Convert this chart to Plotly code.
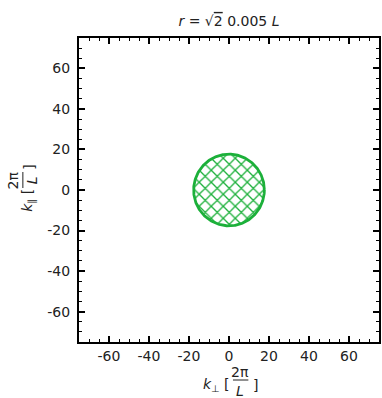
import numpy as np
import plotly.graph_objects as go

# ---- data ----
circle_center = (0.0, 0.0)
circle_radius = np.sqrt(2) * 0.005 * 2500   # ~17.68 in units of 2pi/L
axis_range = [-75, 75]
major_ticks = [-60, -40, -20, 0, 20, 40, 60]
major_labels = ["-60", "-40", "-20", "0", "20", "40", "60"]
minor_ticks = [v for v in range(-75, 76, 5) if v % 20 != 0]

GREEN = "#1cb03a"
FONT = "DejaVu Sans"

theta = np.linspace(0, 2 * np.pi, 361)
cx = circle_center[0] + circle_radius * np.cos(theta)
cy = circle_center[1] + circle_radius * np.sin(theta)

fig = go.Figure()
fig.add_trace(go.Scatter(
    x=cx, y=cy, mode="lines", fill="toself",
    line=dict(color=GREEN, width=2.8),
    fillcolor="white",
    fillpattern=dict(shape="x", fgcolor=GREEN, fgopacity=1, bgcolor="white",
                     size=8.5, solidity=0.28),
    hoverinfo="skip", showlegend=False,
))

W, H = 382, 398
L, R, T, B = 79, 1, 38, 56
def px(x):
    return (x - L) / (W - L - R)
def py(y):
    return (H - B - y) / (H - T - B)

axis_common = dict(
    range=axis_range, showgrid=False, zeroline=False,
    showline=True, linecolor="black", linewidth=2, mirror="allticks",
    ticks="inside", ticklen=6, tickwidth=1.5, tickcolor="black",
    tickmode="array", tickvals=major_ticks, ticktext=major_labels,
    tickfont=dict(family=FONT, size=14, color="#222"),
    minor=dict(tickvals=minor_ticks, ticks="inside", ticklen=3, tickwidth=1.3, tickcolor="black"),
)

fig.update_layout(
    width=W, height=H,
    margin=dict(l=L, r=R, t=T, b=B),
    paper_bgcolor="white", plot_bgcolor="white",
    font=dict(family=FONT, size=14, color="#222"),
    xaxis=dict(**axis_common),
    yaxis=dict(**axis_common, ticklabelstandoff=4),
    title=dict(
        text="<i>r</i> = √<span style='text-decoration:overline'>2</span> 0.005 <i>L</i>",
        x=0.5, xref="paper", y=1 - 21 / H, yref="container",
        xanchor="center", yanchor="middle",
        font=dict(family=FONT, size=14, color="#222"),
    ),
    showlegend=False,
)

ann = []
# x-axis label pieces
ann.append(dict(text="<i>k</i><sub>⊥</sub> [", x=px(233), y=py(385), xanchor="right", yanchor="middle"))
ann.append(dict(text="2π", x=px(241.5), y=py(372), xanchor="center", yanchor="middle"))
ann.append(dict(text="<i>L</i>", x=px(241.5), y=py(391), xanchor="center", yanchor="middle"))
ann.append(dict(text="]", x=px(252), y=py(385), xanchor="left", yanchor="middle"))
# y-axis label pieces (rotated)
ann.append(dict(text="<i>k</i><sub>∥</sub> [", x=px(28), y=py(187), xanchor="center", yanchor="top", textangle=-90))
ann.append(dict(text="2π", x=px(13), y=py(180), xanchor="center", yanchor="middle", textangle=-90))
ann.append(dict(text="<i>L</i>", x=px(32), y=py(180), xanchor="center", yanchor="middle", textangle=-90))
ann.append(dict(text="]", x=px(28), y=py(172), xanchor="center", yanchor="bottom", textangle=-90))
for a in ann:
    a.update(xref="paper", yref="paper", showarrow=False,
             font=dict(family=FONT, size=14, color="#222"))
fig.update_layout(annotations=ann)

fig.add_shape(type="line", xref="paper", yref="paper",
              x0=px(234), x1=px(249.5), y0=py(380), y1=py(380),
              line=dict(color="#222", width=1))
fig.add_shape(type="line", xref="paper", yref="paper",
              x0=px(22.5), x1=px(22.5), y0=py(172), y1=py(188),
              line=dict(color="#222", width=1))

fig.write_html("out.html")
